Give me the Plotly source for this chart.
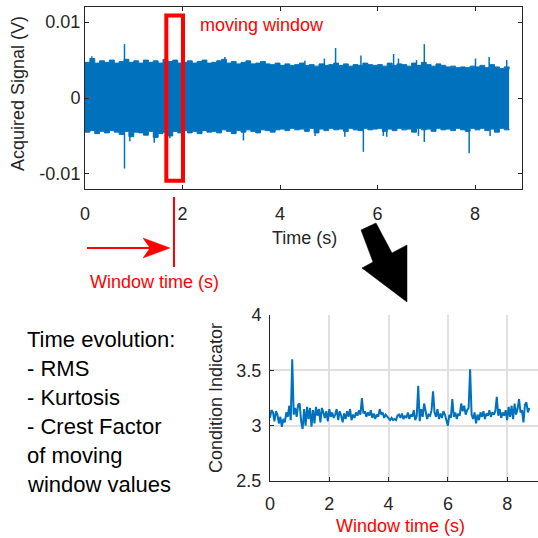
import plotly.graph_objects as go

# ---------------- data ----------------
# Top: acquired signal envelope (V), sampled every 0.1 s from 0 to 8.7 s
env_step = 0.1
upper_env = [0.0047, 0.0052, 0.0046, 0.0049, 0.0047, 0.0050, 0.0046, 0.0048, 0.0051, 0.0047,
             0.0049, 0.0046, 0.0050, 0.0047, 0.0049, 0.0046, 0.0051, 0.0048, 0.0050, 0.0046,
             0.0047, 0.0049, 0.0046, 0.0048, 0.0050, 0.0046, 0.0047, 0.0049, 0.0051, 0.0046,
             0.0048, 0.0045, 0.0047, 0.0049, 0.0045, 0.0046, 0.0048, 0.0045, 0.0044, 0.0046,
             0.0043, 0.0045, 0.0043, 0.0044, 0.0046, 0.0043, 0.0044, 0.0042, 0.0045, 0.0043,
             0.0044, 0.0046, 0.0043, 0.0045, 0.0042, 0.0044, 0.0043, 0.0046, 0.0044, 0.0043,
             0.0044, 0.0042, 0.0046, 0.0043, 0.0045, 0.0044, 0.0042, 0.0046, 0.0043, 0.0047,
             0.0044, 0.0042, 0.0045, 0.0043, 0.0041, 0.0042, 0.0040, 0.0041, 0.0040, 0.0042,
             0.0041, 0.0043, 0.0040, 0.0044, 0.0041, 0.0039, 0.0041, 0.0038]
lower_env = [-0.0045, -0.0043, -0.0047, -0.0044, -0.0046, -0.0043, -0.0045, -0.0048, -0.0044, -0.0051,
             -0.0045, -0.0046, -0.0049, -0.0044, -0.0052, -0.0047, -0.0045, -0.0050, -0.0044, -0.0046,
             -0.0043, -0.0046, -0.0044, -0.0047, -0.0043, -0.0045, -0.0044, -0.0046, -0.0042, -0.0044,
             -0.0047, -0.0043, -0.0045, -0.0042, -0.0044, -0.0046, -0.0042, -0.0043, -0.0045, -0.0042,
             -0.0041, -0.0043, -0.0040, -0.0042, -0.0041, -0.0044, -0.0040, -0.0046, -0.0041, -0.0043,
             -0.0040, -0.0042, -0.0041, -0.0044, -0.0040, -0.0042, -0.0043, -0.0040, -0.0042, -0.0041,
             -0.0040, -0.0044, -0.0041, -0.0043, -0.0040, -0.0042, -0.0041, -0.0045, -0.0040, -0.0042,
             -0.0041, -0.0044, -0.0040, -0.0042, -0.0041, -0.0043, -0.0040, -0.0042, -0.0044, -0.0040,
             -0.0042, -0.0040, -0.0043, -0.0041, -0.0045, -0.0040, -0.0042, -0.0041]
# Isolated spikes of the acquired signal
spike_t = [0.14, 0.81, 2.87, 4.51, 4.91, 5.14, 5.66, 6.33, 6.43, 6.80, 6.96, 8.01, 8.29, 8.65,
           0.81, 0.92, 1.42, 1.74, 3.25, 4.72, 5.33, 5.71, 6.12, 6.19, 6.84, 6.96, 7.88, 8.31]
spike_v = [0.0055, 0.0071, 0.0054, 0.0049, 0.0052, 0.0066, 0.0056, 0.0058, 0.0052, 0.0050, 0.0071, 0.0052, 0.0054, 0.0050,
           -0.0093, -0.0057, -0.0059, -0.0053, -0.0056, -0.0050, -0.0051, -0.0071, -0.0050, -0.0051, -0.0050, -0.0058, -0.0073, -0.0050]

# Bottom: condition indicator per window, window time step 0.05 s
ci_step = 0.05
ci_values = [3.07, 3.14, 3.12, 3.04, 3.13, 3.10, 3.02, 3.08, 2.99, 3.06, 3.03, 3.12, 3.08, 3.18, 3.05, 3.60, 3.10, 3.16, 3.08, 3.19,
             3.20, 3.04, 2.97, 3.15, 3.00, 3.17, 3.06, 3.16, 2.99, 3.14, 3.02, 3.17, 3.09, 3.15, 3.03, 3.16, 3.12, 3.07, 3.13, 3.04,
             3.15, 3.08, 3.12, 3.07, 3.10, 3.15, 3.05, 3.13, 3.09, 3.03, 3.11, 3.06, 3.13, 3.08, 3.15, 3.05, 3.10, 3.07, 3.12, 3.09,
             3.14, 3.10, 3.25, 3.11, 3.13, 3.08, 3.12, 3.09, 3.14, 3.07, 3.11, 3.06, 3.10, 3.08, 3.15, 3.10, 3.12, 3.07, 3.10, 3.08,
             3.06, 3.05, 3.07, 3.05, 3.06, 3.05, 3.09, 3.10, 3.07, 3.11, 3.06, 3.09, 3.07, 3.12, 3.06, 3.10, 3.08, 3.14, 3.05, 3.09,
             3.36, 3.04, 3.15, 3.08, 3.20, 3.12, 3.06, 3.10, 3.09, 3.14, 3.31, 3.12, 3.08, 3.15, 3.06, 3.11, 3.07, 3.13, 3.10, 3.05,
             3.00, 3.10, 3.07, 3.24, 3.08, 3.12, 3.06, 3.11, 3.09, 3.20, 3.13, 3.18, 3.10, 3.14, 3.16, 3.51, 3.10, 3.06, 3.12, 3.02,
             3.10, 3.05, 3.12, 3.08, 3.13, 3.06, 3.11, 3.09, 3.14, 3.08, 3.12, 3.10, 3.13, 3.26, 3.09, 3.15, 3.07, 3.12, 3.09, 3.14,
             3.05, 3.17, 3.08, 3.18, 3.06, 3.20, 3.10, 3.15, 3.24, 3.12, 3.14, 3.03, 3.19, 3.21, 3.12, 3.16]

top_xticks = [0, 2, 4, 6, 8]
top_yticks = [-0.01, 0, 0.01]
top_yticklabels = ["-0.01", "0", "0.01"]
bot_xticks = [0, 2, 4, 6, 8]
bot_yticks = [2.5, 3, 3.5, 4]
bot_yticklabels = ["2.5", "3", "3.5", "4"]

window_rect = [1.668, 2.01, -0.0109, 0.01087]  # x0, x1, y0, y1 in data units

info_lines = ["Time evolution:", "- RMS", "- Kurtosis", "- Crest Factor", "of moving", "window values"]

# ---------------- figure ----------------
W = H = 538
BLUE = "#0072BD"
AX = "#262626"
FONT = "Liberation Sans, Arial, sans-serif"


def px(x):
    return x / W


def py(y):
    return 1 - y / H


env_t = [round(i * env_step, 4) for i in range(len(upper_env))]
ci_t = [round(i * ci_step, 4) for i in range(len(ci_values))]

fig = go.Figure()
fig.add_trace(go.Scatter(x=env_t, y=lower_env, mode="lines", line=dict(color=BLUE, width=1, shape="hv"),
                         xaxis="x", yaxis="y", showlegend=False, hoverinfo="skip"))
fig.add_trace(go.Scatter(x=env_t, y=upper_env, mode="lines", line=dict(color=BLUE, width=1, shape="hv"),
                         fill="tonexty", fillcolor=BLUE, xaxis="x", yaxis="y", showlegend=False, hoverinfo="skip"))
sx, sy = [], []
for t, v in zip(spike_t, spike_v):
    sx += [t, t, None]
    sy += [0, v, None]
fig.add_trace(go.Scatter(x=sx, y=sy, mode="lines", line=dict(color=BLUE, width=1.5),
                         xaxis="x", yaxis="y", showlegend=False, hoverinfo="skip"))

fig.add_trace(go.Scatter(x=ci_t, y=ci_values, mode="lines", line=dict(color=BLUE, width=2),
                         xaxis="x2", yaxis="y2", showlegend=False))

axis_common = dict(showline=True, linecolor=AX, linewidth=1, ticks="inside", ticklen=4, tickcolor=AX,
                   tickfont=dict(family=FONT, size=18, color=AX), zeroline=False)

fig.update_layout(
    width=W, height=H, margin=dict(l=0, r=0, t=0, b=0),
    paper_bgcolor="white", plot_bgcolor="white", template="none",
    xaxis=dict(domain=[px(85), px(522)], range=[0, 8.964], tickvals=top_xticks, showgrid=False,
               mirror="ticks", anchor="y", ticklabelstandoff=8, **axis_common),
    yaxis=dict(domain=[py(189), py(7)], range=[-0.012, 0.012], tickvals=top_yticks, ticktext=top_yticklabels,
               showgrid=False, mirror="ticks", anchor="x", ticklabelstandoff=0, **axis_common),
    xaxis2=dict(domain=[px(270), 1.0], range=[0, 9.04], tickvals=bot_xticks, showgrid=True,
                gridcolor="#e0e0e0", gridwidth=1.5, anchor="y2", ticklabelstandoff=6, **axis_common),
    yaxis2=dict(domain=[py(481), py(315)], range=[2.5, 4], tickvals=bot_yticks, ticktext=bot_yticklabels,
                showgrid=True, gridcolor="#e0e0e0", gridwidth=1.5, anchor="x2", ticklabelstandoff=4, **axis_common),
    font=dict(family=FONT),
)

ann = []
# axis titles
ann.append(dict(text="Acquired Signal (V)", x=px(18), y=py(94), textangle=-90, font=dict(size=18, color=AX)))
ann.append(dict(text="Time (s)", x=px(304), y=py(238), font=dict(size=18, color=AX)))
ann.append(dict(text="Condition Indicator", x=px(216), y=py(398), textangle=-90, font=dict(size=18, color=AX)))
ann.append(dict(text="Window time (s)", x=px(400), y=py(526), font=dict(size=18, color="#ff0000")))
# red labels
ann.append(dict(text="moving window", x=px(198), y=py(25), xanchor="left", font=dict(size=18, color="#ff0000")))
ann.append(dict(text="Window time (s)", x=px(88), y=py(282), xanchor="left", font=dict(size=18, color="#ff0000")))
# info text block
for i, line in enumerate(info_lines):
    ann.append(dict(text=line, x=px(25), y=py(339 + i * 29), xanchor="left", font=dict(size=22, color="black")))
for a in ann:
    a.setdefault("xanchor", "center")
    a.setdefault("yanchor", "middle")
    a.update(xref="paper", yref="paper", showarrow=False)
    a["font"]["family"] = FONT
fig.update_layout(annotations=ann)

shapes = []
# moving window rectangle (data coords)
shapes.append(dict(type="rect", xref="x", yref="y", x0=window_rect[0], x1=window_rect[1],
                   y0=window_rect[2], y1=window_rect[3], line=dict(color="#ff0000", width=4)))
# red vertical marker and arrow
shapes.append(dict(type="line", xref="paper", yref="paper", x0=px(174), x1=px(174), y0=py(197), y1=py(267),
                   line=dict(color="#ff0000", width=2)))
shapes.append(dict(type="line", xref="paper", yref="paper", x0=px(87), x1=px(152), y0=py(248), y1=py(248),
                   line=dict(color="#ff0000", width=2)))


def path(pts):
    return "M " + " L ".join(f"{px(x):.5f},{py(y):.5f}" for x, y in pts) + " Z"


shapes.append(dict(type="path", xref="paper", yref="paper",
                   path=path([(170, 248), (143, 238), (150, 248), (143, 258)]),
                   fillcolor="#ff0000", line=dict(color="#ff0000", width=0.5)))
# big black arrow
shapes.append(dict(type="path", xref="paper", yref="paper",
                   path=path([(361, 230), (376, 223), (392, 253), (407, 245), (407, 302), (362, 268), (373, 262)]),
                   fillcolor="black", line=dict(color="black", width=0.5)))
fig.update_layout(shapes=shapes)

fig.write_html("out.html")
